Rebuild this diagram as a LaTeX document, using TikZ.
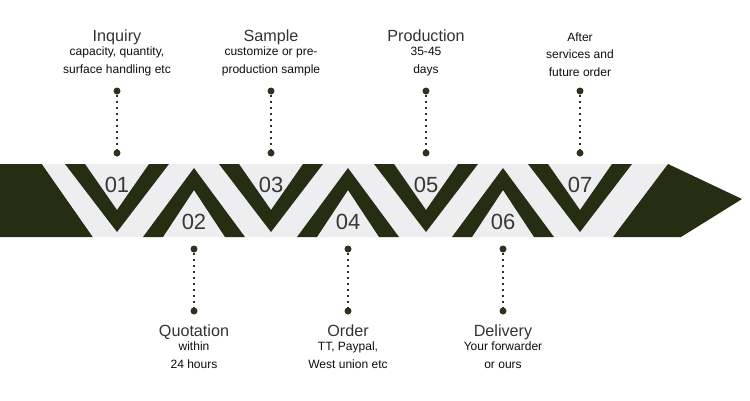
\documentclass[tikz,border=0pt]{standalone}
\usepackage{fontspec}
\setmainfont{Liberation Sans}
\definecolor{bandgreen}{HTML}{252E12}
\definecolor{bandgray}{HTML}{EEEEF0}
\definecolor{dotgreen}{HTML}{2D3320}
\definecolor{titlegray}{HTML}{333333}
\tikzset{
  leaddot/.style={circle,fill=dotgreen,inner sep=0pt,minimum size=1.4mm},
  leader/.style={dotgreen,line width=1.1pt,dash pattern=on 1.5pt off 1.9pt},
  steptitle/.style={anchor=base,text=titlegray,font=\fontsize{9.2}{11}\selectfont},
  stepbody/.style={anchor=base,align=center,text=black!95,font=\fontsize{6.85}{9.7}\selectfont},
  stepnum/.style={anchor=base,text=black!78,font=\fontsize{12.5}{14}\selectfont}
}

\begin{document}
\begin{tikzpicture}[x=0.02cm,y=-0.02cm]
\useasboundingbox (0,0) rectangle (750,400);
% BAND
\fill[bandgreen] (0,164) -- (42,164) -- (93,237) -- (0,237) -- cycle;
\fill[bandgray] (42,164) -- (668,164) -- (613,237) -- (93,237) -- cycle;
\fill[bandgreen] (668,164) -- (742,199) -- (681,237) -- (613,237) -- cycle;
% CHEVRONS
\fill[bandgreen] (117-52,164) -- (117,232) -- (117+52,164) -- (117+32,164) -- (117,210) -- (117-32,164) -- cycle;
\fill[bandgreen] (271-52,164) -- (271,232) -- (271+52,164) -- (271+32,164) -- (271,210) -- (271-32,164) -- cycle;
\fill[bandgreen] (426-52,164) -- (426,232) -- (426+52,164) -- (426+32,164) -- (426,210) -- (426-32,164) -- cycle;
\fill[bandgreen] (580-52,164) -- (580,232) -- (580+52,164) -- (580+32,164) -- (580,210) -- (580-32,164) -- cycle;

\fill[bandgreen] (194-51,237) -- (194,168) -- (194+51,237) -- (194+31,237) -- (194,190) -- (194-31,237) -- cycle;
\fill[bandgreen] (348-51,237) -- (348,168) -- (348+51,237) -- (348+31,237) -- (348,190) -- (348-31,237) -- cycle;
\fill[bandgreen] (503-51,237) -- (503,168) -- (503+51,237) -- (503+31,237) -- (503,190) -- (503-31,237) -- cycle;
% NUMBERS
\node[stepnum] (n1) at (117,192) {01};
\node[stepnum] (n2) at (194,229) {02};
\node[stepnum] (n3) at (271,192) {03};
\node[stepnum] (n4) at (348,229) {04};
\node[stepnum] (n5) at (426,192) {05};
\node[stepnum] (n6) at (503,229) {06};
\node[stepnum] (n7) at (580,192) {07};
% LEADERS
\node[leaddot] (d1a) at (117,91) {};
\node[leaddot] (d1b) at (117,153) {};
\node[leaddot] (d3a) at (271,91) {};
\node[leaddot] (d3b) at (271,153) {};
\node[leaddot] (d5a) at (426,91) {};
\node[leaddot] (d5b) at (426,153) {};
\node[leaddot] (d7a) at (580,91) {};
\node[leaddot] (d7b) at (580,153) {};

\node[leaddot] (d2a) at (194,249) {};
\node[leaddot] (d2b) at (194,311) {};
\node[leaddot] (d4a) at (348,249) {};
\node[leaddot] (d4b) at (348,311) {};
\node[leaddot] (d6a) at (503,249) {};
\node[leaddot] (d6b) at (503,311) {};

\draw[leader] (d1a) -- (d1b);
\draw[leader] (d3a) -- (d3b);
\draw[leader] (d5a) -- (d5b);
\draw[leader] (d7a) -- (d7b);
\draw[leader] (d2a) -- (d2b);
\draw[leader] (d4a) -- (d4b);
\draw[leader] (d6a) -- (d6b);
% TEXTS (body nodes sit on their last line)
\node[steptitle] (inquiry) at (117,41) {Inquiry};
\node[stepbody] (inquirytxt) at (117,73) {capacity, quantity,\\surface handling etc};
\node[steptitle] (sample) at (271,41) {Sample};
\node[stepbody] (sampletxt) at (271,73) {customize or pre-\\production sample};
\node[steptitle] (production) at (426,41) {Production};
\node[stepbody] (productiontxt) at (426,73) {35-45\\days};
\node[stepbody] (aftertxt) at (580,76) {After\\services and\\future order};

\node[steptitle] (quotation) at (194,336) {Quotation};
\node[stepbody] (quotationtxt) at (194,368) {within\\24 hours};
\node[steptitle] (order) at (348,336) {Order};
\node[stepbody] (ordertxt) at (348,368) {TT, Paypal,\\West union etc};
\node[steptitle] (delivery) at (503,336) {Delivery};
\node[stepbody] (deliverytxt) at (503,368) {Your forwarder\\or ours};
\end{tikzpicture}
\end{document}
